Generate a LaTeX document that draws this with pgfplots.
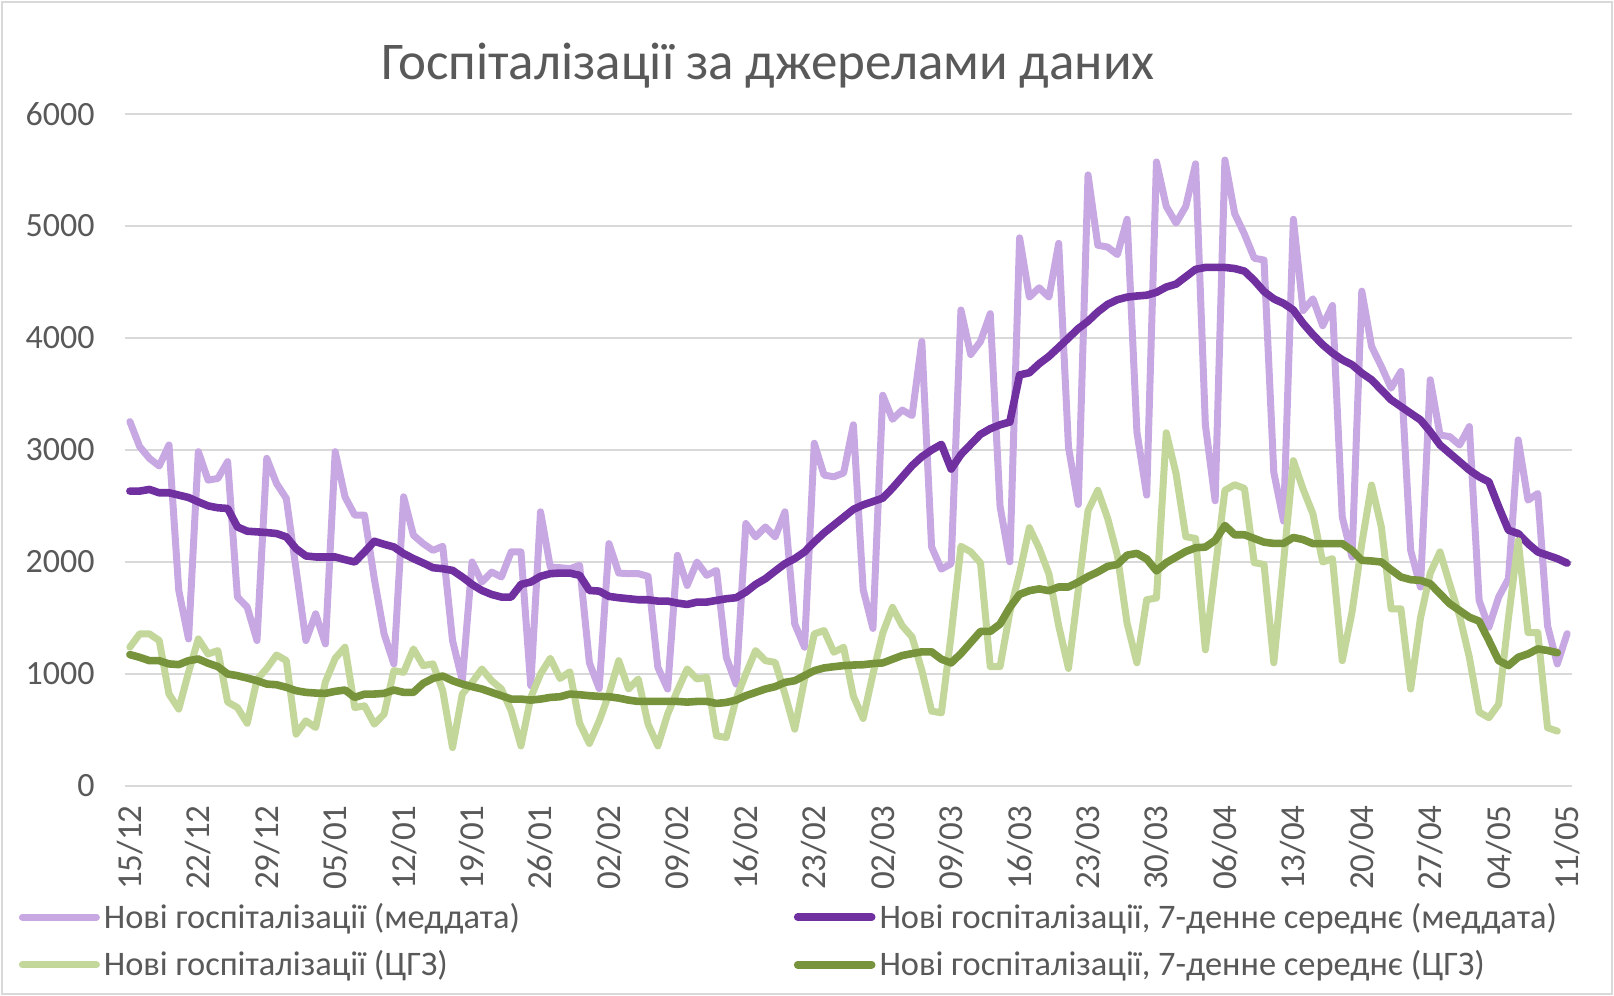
\documentclass[border=0pt]{standalone}
\usepackage{pgfplots}
\usepackage{pgfplotstable}
\pgfplotsset{compat=1.18}
\usepackage{fontspec}
\setmainfont{Carlito}
\definecolor{lp}{HTML}{C8A8E2}
\definecolor{dp}{HTML}{7030A0}
\definecolor{lg}{HTML}{C4D79B}
\definecolor{dg}{HTML}{77933C}
\definecolor{txt}{HTML}{595959}
\definecolor{grd}{HTML}{D9D9D9}
\pgfplotstableread{
d m ma c ca
0 3254 2633 1239 1173
1 3030 2633 1358 1149
2 2925 2648 1358 1119
3 2857 2618 1299 1119
4 3045 2618 821 1090
5 1746 2597 687 1084
6 1313 2576 1015 1119
7 2985 2537 1313 1134
8 2731 2501 1179 1096
9 2746 2484 1209 1066
10 2896 2478 750 1000
11 1687 2313 700 985
12 1597 2275 560 964
13 1299 2269 950 940
14 2925 2263 1050 910
15 2701 2254 1170 904
16 2567 2224 1120 881
17 1934 2119 463 851
18 1299 2054 582 836
19 1537 2045 522 830
20 1269 2045 930 827
21 2985 2045 1140 845
22 2582 2021 1239 857
23 2418 2000 700 791
24 2418 2090 716 820
25 1850 2185 552 821
26 1358 2158 642 827
27 1090 2134 1030 857
28 2582 2075 1015 836
29 2239 2030 1224 836
30 2164 1991 1075 916
31 2104 1949 1090 961
32 2140 1940 851 982
33 1299 1925 343 940
34 940 1866 821 910
35 2000 1800 925 887
36 1821 1746 1045 866
37 1910 1710 940 836
38 1866 1687 866 806
39 2090 1687 672 776
40 2090 1800 358 776
41 896 1821 790 767
42 2448 1872 1000 776
43 1955 1896 1140 791
44 1949 1901 960 797
45 1940 1901 1020 821
46 1970 1881 560 815
47 1100 1746 380 806
48 870 1740 580 800
49 2164 1693 821 797
50 1901 1681 1119 785
51 1896 1672 866 767
52 1896 1663 955 755
53 1872 1663 552 755
54 1060 1651 358 755
55 866 1651 642 755
56 2060 1633 851 755
57 1791 1621 1045 749
58 2000 1642 955 755
59 1881 1642 970 755
60 1925 1657 448 737
61 1149 1672 433 746
62 910 1681 776 767
63 2343 1731 1000 806
64 2224 1800 1209 836
65 2313 1851 1119 866
66 2224 1919 1104 887
67 2448 1985 821 925
68 1448 2030 507 940
69 1239 2090 950 985
70 3060 2179 1358 1030
71 2776 2260 1388 1054
72 2761 2330 1194 1065
73 2795 2400 1239 1075
74 3225 2470 802 1080
75 1754 2510 603 1083
76 1407 2540 1000 1093
77 3489 2570 1364 1099
78 3274 2660 1595 1132
79 3357 2760 1430 1165
80 3307 2860 1331 1182
81 3969 2940 1033 1198
82 2134 3000 669 1198
83 1936 3050 653 1132
84 1985 2830 1350 1099
85 4250 2960 2140 1182
86 3853 3050 2091 1281
87 3969 3140 1992 1380
88 4217 3190 1066 1380
89 2498 3225 1066 1446
90 2002 3250 1550 1595
91 4894 3670 1900 1711
92 4365 3690 2306 1744
93 4448 3770 2124 1760
94 4365 3836 1893 1744
95 4845 3917 1430 1777
96 3026 4000 1050 1777
97 2514 4084 1750 1820
98 5456 4150 2458 1870
99 4828 4233 2640 1911
100 4812 4300 2392 1961
101 4745 4342 2061 1978
102 5060 4365 1450 2061
103 3160 4375 1100 2077
104 2597 4382 1663 2027
105 5572 4408 1679 1921
106 5175 4455 3154 1994
107 5026 4481 2790 2044
108 5175 4547 2226 2094
109 5555 4613 2210 2127
110 3225 4630 1216 2133
111 2547 4630 1930 2193
112 5589 4630 2640 2326
113 5110 4620 2690 2243
114 4927 4597 2657 2243
115 4712 4514 1994 2210
116 4696 4415 1978 2177
117 2800 4349 1100 2166
118 2365 4309 2000 2166
119 5060 4250 2905 2219
120 4245 4130 2650 2200
121 4350 4030 2430 2164
122 4110 3940 2000 2164
123 4290 3866 2030 2164
124 2403 3806 1119 2164
125 2045 3761 1552 2104
126 4418 3687 2164 2015
127 3925 3627 2687 2009
128 3746 3537 2313 2000
129 3552 3448 1582 1931
130 3701 3388 1582 1866
131 2104 3328 866 1842
132 1776 3269 1500 1836
133 3627 3164 1900 1806
134 3134 3045 2090 1716
135 3119 2970 1800 1627
136 3045 2896 1520 1567
137 3209 2821 1150 1507
138 1657 2761 660 1472
139 1418 2716 610 1299
140 1687 2493 730 1119
141 1851 2284 1500 1075
142 3090 2254 2190 1149
143 2552 2164 1370 1179
144 2612 2090 1370 1224
145 1430 2060 520 1210
146 1090 2030 490 1190
147 1360 1990 nan nan
}\datatable
\begin{document}
\begin{tikzpicture}[x=1pt,y=1pt]
\path[use as bounding box] (0,0) rectangle (807,498);
\fill[white] (0,0) rectangle (807,498);
\draw[grd, line width=0.8pt] (1,1) rectangle (806,497);
\node[text=txt, font=\fontsize{26.5}{32}\selectfont] at (384,465) {Госпіталізації за джерелами даних};
\begin{axis}[
  at={(62.5pt,105pt)}, anchor=south west,
  scale only axis, width=723.5pt, height=336pt,
  xmin=-0.5, xmax=147.5, ymin=0, ymax=6000,
  axis line style={draw=none},
  tick style={draw=none}, major tick length=0pt,
  ymajorgrids, grid style={grd, line width=1pt},
  ytick={0,1000,2000,3000,4000,5000,6000},
  yticklabels={0,1000,2000,3000,4000,5000,6000},
  xtick={0,7,...,147},
  xticklabels={15/12,22/12,29/12,05/01,12/01,19/01,26/01,02/02,09/02,16/02,23/02,02/03,09/03,16/03,23/03,30/03,06/04,13/04,20/04,27/04,04/05,11/05},
  xticklabel shift=9.5pt,
  yticklabel shift=15pt,
  x tick label style={rotate=90, anchor=east, inner sep=0pt, font=\fontsize{17.5}{20}\selectfont, text=txt},
  y tick label style={anchor=east, inner sep=0pt, font=\fontsize{17}{20}\selectfont, text=txt},
  legend columns=2,
  legend style={at={(-0.0736,-0.1677)}, anchor=north west, draw=none, fill=none,
    font=\fontsize{17.2}{20}\selectfont, text=txt, row sep=5.7pt, inner sep=0pt},
  legend cell align=left,
  legend image code/.code={\draw[#1, line cap=round] (0pt,0pt) -- (37pt,0pt);},
  every axis plot/.append style={line join=round, line cap=round},
]
\addplot[lp, line width=3.5pt] table[x=d, y=m] {\datatable};
\addlegendentry{\makebox[343pt][l]{Нові госпіталізації (меддата)}}
\addplot[dp, line width=3.8pt] table[x=d, y=ma] {\datatable};
\addlegendentry{Нові госпіталізації, 7-денне середнє (меддата)}
\addplot[lg, line width=3.5pt] table[x=d, y=c] {\datatable};
\addlegendentry{\makebox[343pt][l]{Нові госпіталізації (ЦГЗ)}}
\addplot[dg, line width=3.8pt] table[x=d, y=ca] {\datatable};
\addlegendentry{Нові госпіталізації, 7-денне середнє (ЦГЗ)}
\end{axis}
\end{tikzpicture}
\end{document}
